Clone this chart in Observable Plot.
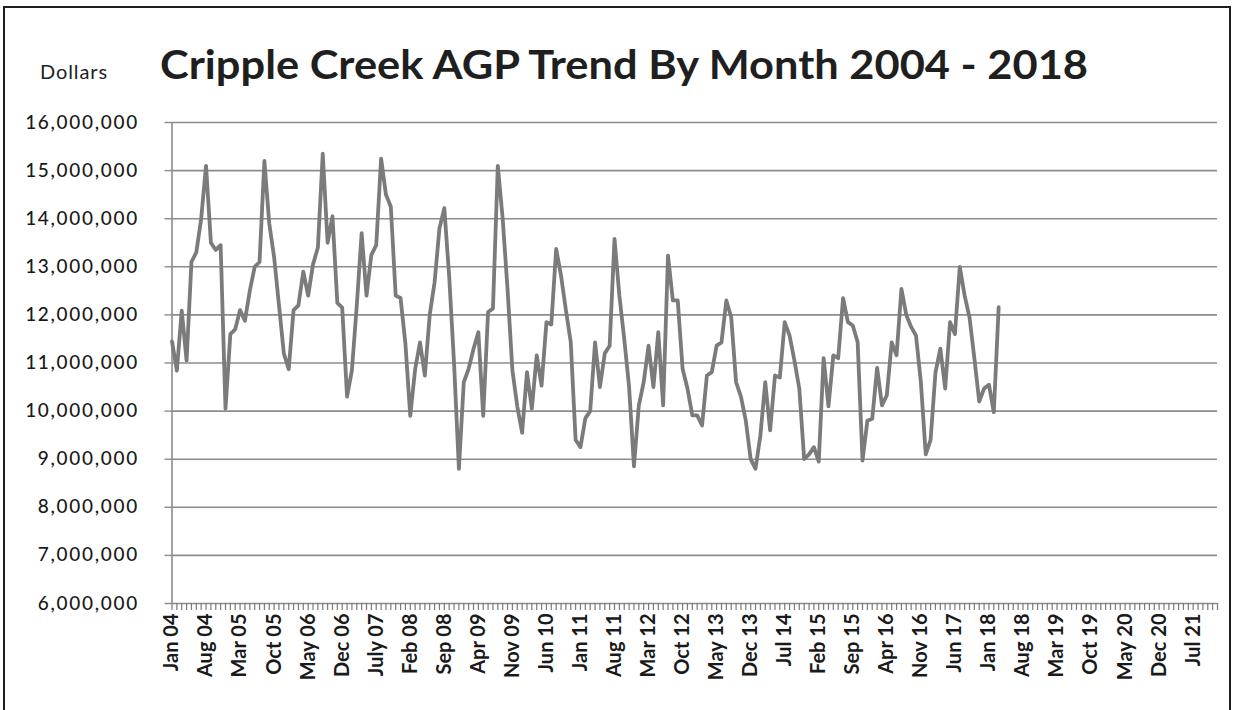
<!DOCTYPE html>
<html>
<head>
<meta charset="utf-8">
<script src="https://cdn.jsdelivr.net/npm/d3@7"></script>
<script src="https://cdn.jsdelivr.net/npm/@observablehq/plot@0.6"></script>
<style>
  html, body { margin: 0; padding: 0; background: #fff; }
  body { width: 1241px; height: 710px; overflow: hidden; position: relative; font-family: Lato, "Open Sans", sans-serif; }
  #frame { position: absolute; left: 3px; top: 6px; width: 1228px; height: 730px; border: 2px solid #1e1e1e; box-sizing: border-box; }
  #ylab { position: absolute; left: 40px; top: 59px; font-size: 20px; letter-spacing: 0.9px; color: #222; }
  #title { position: absolute; left: 160px; top: 40px; font-size: 40px; font-weight: bold; color: #1f1f1f; white-space: nowrap; transform-origin: 0 0; }
  #chart { position: absolute; left: 0; top: 0; }
  #chart svg g[aria-label="y-axis tick label"] text { letter-spacing: 1.7px; font-weight: 500; }
</style>
</head>
<body>
<div id="frame"></div>
<div id="chart"></div>
<div id="ylab">Dollars</div>
<div id="title">Cripple Creek AGP Trend By Month 2004 - 2018</div>
<script>
// Tick labels shown every 7 months, starting Jan 2004
const monthLabels = ["Jan 04","Aug 04","Mar 05","Oct 05","May 06","Dec 06","July 07","Feb 08","Sep 08","Apr 09","Nov 09","Jun 10","Jan 11","Aug 11","Mar 12","Oct 12","May 13","Dec 13","Jul 14","Feb 15","Sep 15","Apr 16","Nov 16","Jun 17","Jan 18","Aug 18","Mar 19","Oct 19","May 20","Dec 20","Jul 21"];

// Monthly AGP in millions of dollars, Jan 2004 .. Mar 2018
const agpMillions = [
  11.45,10.84,12.09,11.05,13.10,13.30,14.00,15.10,13.50,13.35,13.45,10.05,
  11.60,11.70,12.10,11.88,12.50,13.00,13.10,15.20,13.90,13.20,12.20,11.20,
  10.87,12.10,12.20,12.90,12.40,13.05,13.40,15.35,13.50,14.05,12.25,12.15,
  10.30,10.85,12.20,13.70,12.40,13.25,13.45,15.25,14.50,14.25,12.40,12.35,
  11.40,9.90,10.87,11.43,10.74,12.00,12.68,13.80,14.22,12.80,11.00,8.80,
  10.60,10.88,11.29,11.64,9.90,12.06,12.13,15.10,14.00,12.54,10.85,10.10,
  9.55,10.81,10.05,11.16,10.53,11.85,11.80,13.37,12.82,12.10,11.43,9.40,
  9.25,9.85,10.00,11.43,10.50,11.20,11.36,13.58,12.40,11.50,10.50,8.85,
  10.12,10.60,11.36,10.50,11.64,10.12,13.23,12.30,12.30,10.88,10.47,9.91,
  9.91,9.70,10.74,10.81,11.36,11.43,12.30,11.95,10.60,10.30,9.80,9.00,
  8.80,9.50,10.60,9.60,10.74,10.70,11.85,11.57,11.05,10.47,9.00,9.10,
  9.25,8.95,11.10,10.10,11.16,11.10,12.35,11.85,11.78,11.43,8.97,9.80,
  9.84,10.90,10.12,10.33,11.43,11.16,12.54,12.00,11.75,11.57,10.60,9.10,
  9.40,10.80,11.30,10.47,11.85,11.60,13.00,12.40,11.95,11.10,10.20,10.47,
  10.55,9.98,12.16
];

const yTicks = d3.range(6, 17).map(d => d * 1e6);
const labelTicks = monthLabels.map((_, k) => k * 7);
const monthTicks = d3.range(0, 216);
const table = agpMillions.map((v, i) => ({ month: i, agp: v * 1e6 }));

const chart = Plot.plot({
  width: 1241,
  height: 710,
  marginLeft: 171.5,
  marginRight: 24,
  marginTop: 122,
  marginBottom: 107,
  x: { domain: [0, 215], axis: null },
  y: { domain: [6e6, 16e6], axis: null },
  style: { fontFamily: "Lato, 'Open Sans', sans-serif", background: "transparent", overflow: "visible" },
  marks: [
    Plot.gridY(yTicks, { stroke: "#8c8c8c", strokeOpacity: 1, strokeWidth: 1.6 }),
    Plot.ruleX([0], { stroke: "#8c8c8c", strokeWidth: 1.6 }),
    Plot.axisY(yTicks, {
      label: null, tickSize: 7, tickPadding: 26, tickFormat: d3.format(","),
      fontSize: 19, stroke: "#8c8c8c", fill: "#1a1a1a", strokeWidth: 1.4
    }),
    Plot.axisX(monthTicks, { label: null, tickSize: 7, tickFormat: () => "", stroke: "#7a7a7a", strokeWidth: 1.2 }),
    Plot.axisX(labelTicks, {
      label: null, tickSize: 0, tickPadding: 10, tickRotate: -90,
      tickFormat: d => monthLabels[d / 7], fontSize: 20, fontWeight: "bold", fill: "#1a1a1a"
    }),
    Plot.lineY(table, { x: "month", y: "agp", stroke: "#7b7b7b", strokeWidth: 3.8, strokeLinejoin: "round" })
  ]
});
document.getElementById("chart").appendChild(chart);

// fit title to the reference width
const t = document.getElementById("title");
const w = t.getBoundingClientRect().width;
if (w > 0) t.style.transform = "scaleX(" + (928 / w) + ")";
</script>
</body>
</html>
